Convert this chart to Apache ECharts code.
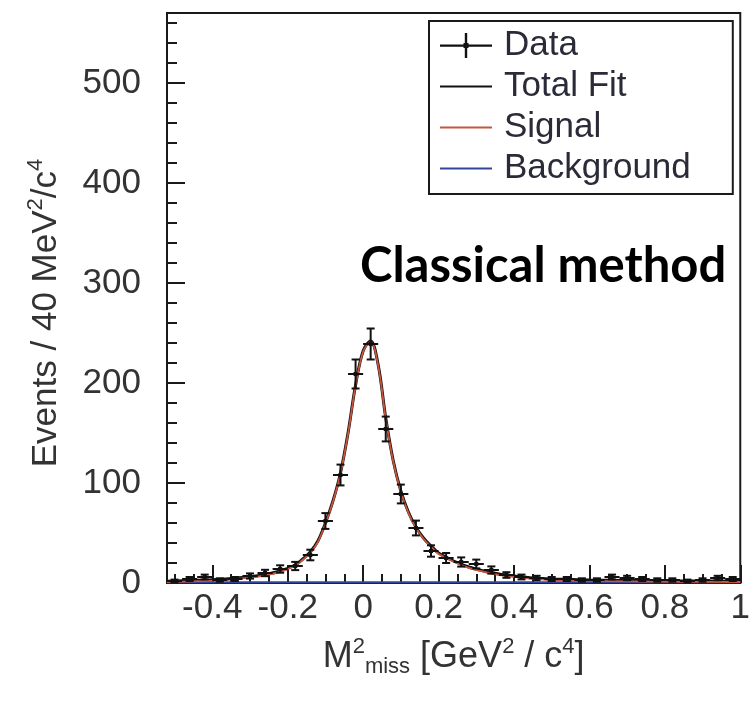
<!DOCTYPE html>
<html>
<head>
<meta charset="utf-8">
<script src="https://cdn.jsdelivr.net/npm/echarts@6/dist/echarts.min.js"></script>
<style>
html,body{margin:0;padding:0;background:#fff;}
#chart{width:753px;height:703px;}
</style>
</head>
<body>
<div id="chart"></div>
<script>
// ---- data ----
const binWidth = 0.04;
const binCenters = [-0.50,-0.46,-0.42,-0.38,-0.34,-0.30,-0.26,-0.22,-0.18,-0.14,-0.10,-0.06,-0.02,0.02,0.06,0.10,0.14,0.18,0.22,0.26,0.30,0.34,0.38,0.42,0.46,0.50,0.54,0.58,0.62,0.66,0.70,0.74,0.78,0.82,0.86,0.90,0.94,0.98];
const counts = [2,4,6,3,4,7,10,14,17,28,62,108,209,239,154,89,55,32,25,21,19,13,8,6,5,4,4,3,3,6,5,4,3,3,2,3,5,4];
const errors = [1.4,2,2.4,1.7,2,2.6,3.2,3.7,4.1,5.3,7.9,10.4,14.5,15.5,12.4,9.4,7.4,5.7,5,4.6,4.4,3.6,2.8,2.4,2.2,2,2,1.7,1.7,2.4,2.2,2,1.7,1.7,1.4,1.7,2.2,2];

const fitX = [-0.52,-0.45,-0.40,-0.35,-0.30,-0.26,-0.22,-0.18,-0.16,-0.14,-0.12,-0.10,-0.08,-0.06,-0.04,-0.02,0.00,0.02,0.04,0.06,0.08,0.10,0.12,0.14,0.16,0.18,0.20,0.24,0.28,0.32,0.36,0.40,0.45,0.50,0.60,0.70,0.85,1.00];
const totalFit = [1.7,2.5,3.2,4.5,6.2,8.5,12,18,24,31,42,60,82,110,150,198,232,242,218,165,122,92,71,56,45,37,30,22,16,12,9,7,5,4,3,2.5,2,1.8];
const signal = [0.9,1.7,2.4,3.7,5.4,7.7,11.2,17.2,23.2,30.2,41.2,59.2,81.2,109.2,149.2,197.2,231.2,241.2,217.2,164.2,121.2,91.2,70.2,55.2,44.2,36.2,29.2,21.2,15.2,11.2,8.2,6.2,4.2,3.2,2.2,1.7,1.2,1.0];
const bgX = [-0.52, 1.0];
const background = [0.8, 0.8];

const xMajorTicks = [-0.4,-0.2,0,0.2,0.4,0.6,0.8,1.0];
const xMinorTicks = [-0.5,-0.45,-0.35,-0.3,-0.25,-0.15,-0.1,-0.05,0.05,0.1,0.15,0.25,0.3,0.35,0.45,0.5,0.55,0.65,0.7,0.75,0.85,0.9,0.95];
const yMajorTicks = [0,100,200,300,400,500];
const yMinorTicks = [20,40,60,80,120,140,160,180,220,240,260,280,320,340,360,380,420,440,460,480,520,540,560];

const seriesNames = ['Data','Total Fit','Signal','Background'];
// --------------------------------------

const zip = (xs, ys) => xs.map((x, i) => [x, ys[i]]);
const dataPts = binCenters.map((x, i) => [x, counts[i], errors[i]]);

const FONT = '"Liberation Sans", Arial, sans-serif';
const AX = '#1a1a1a';
// legend icon: thin horizontal stroke inside a 52x26 box (tiny corner marks keep the box size)
const LINE_ICON = 'path://M0,0 L0.01,0 L0,0.01 Z M0,12 H52 V14 H0 Z M52,26 L51.99,26 L52,25.99 Z';
const DATA_ICON = 'path://M0,0 L0.01,0 L0,0.01 Z M0,12 H52 V14.2 H0 Z M24.8,0.5 H27.2 V25.5 H24.8 Z M23.5,10.5 H28.5 V15.5 H23.5 Z M52,26 L51.99,26 L52,25.99 Z';

const chart = echarts.init(document.getElementById('chart'));
const baseX = { type:'value', min:-0.52, max:1.0, gridIndex:0, position:'bottom', splitLine:{show:false} };
const baseY = { type:'value', min:0, max:570, gridIndex:0, position:'left', splitLine:{show:false} };

chart.setOption({
  animation:false,
  backgroundColor:'#fff',
  title:{
    text:'Classical method', left:355, top:237,
    textStyle:{fontFamily:'Lato, "Open Sans", sans-serif', fontWeight:'bold', fontSize:49, color:'#000'}
  },
  grid:{left:167, right:2, top:13, bottom:120, show:true, borderColor:AX, borderWidth:2, backgroundColor:'transparent'},
  legend:{
    orient:'vertical', left:429, top:21,
    padding:[7, 42, 8, 11],
    itemWidth:52, itemHeight:26, itemGap:6,
    borderColor:AX, borderWidth:2, backgroundColor:'#fff',
    textStyle:{fontFamily:FONT, fontSize:35, color:'#2b2b38', padding:[0,0,0,7]},
    data:[
      {name:seriesNames[0], icon:DATA_ICON},
      {name:seriesNames[1], icon:LINE_ICON},
      {name:seriesNames[2], icon:LINE_ICON},
      {name:seriesNames[3], icon:LINE_ICON}
    ]
  },
  xAxis:[
    Object.assign({}, baseX, {
      axisLine:{show:true, onZero:false, lineStyle:{color:AX, width:2}},
      axisTick:{show:true, inside:true, length:18, customValues:xMajorTicks, lineStyle:{color:AX, width:2}},
      axisLabel:{show:true, customValues:xMajorTicks, margin:8, fontFamily:FONT, fontSize:35, color:'#333',
        showMinLabel:true, showMaxLabel:true, formatter:v => String(Math.round(v*10)/10)},
      name:'M{sup|2}{sub|miss} [GeV{sup|2} / c{sup|4}]',
      nameLocation:'middle', nameGap:53,
      nameTextStyle:{fontFamily:FONT, fontSize:36, color:'#333', lineHeight:42,
        rich:{
          sup:{fontFamily:FONT, fontSize:22, color:'#333', verticalAlign:'top', lineHeight:22},
          sub:{fontFamily:FONT, fontSize:22, color:'#333', verticalAlign:'bottom', lineHeight:22}
        }}
    }),
    Object.assign({}, baseX, {
      axisLine:{show:false, onZero:false},
      axisTick:{show:true, inside:true, length:9, customValues:xMinorTicks, lineStyle:{color:AX, width:2}},
      axisLabel:{show:false}
    })
  ],
  yAxis:[
    Object.assign({}, baseY, {
      axisLine:{show:true, onZero:false, lineStyle:{color:AX, width:2}},
      axisTick:{show:true, inside:true, length:18, customValues:yMajorTicks, lineStyle:{color:AX, width:2}},
      axisLabel:{show:true, customValues:yMajorTicks, margin:26, fontFamily:FONT, fontSize:35, color:'#333'},
      name:'Events / 40 MeV{sup|2}/c{sup|4}',
      nameLocation:'middle', nameGap:100, nameRotate:90,
      nameTextStyle:{fontFamily:FONT, fontSize:35, color:'#333', lineHeight:42, padding:[0,30,0,0],
        rich:{
          sup:{fontFamily:FONT, fontSize:22, color:'#333', verticalAlign:'top', lineHeight:22}
        }}
    }),
    Object.assign({}, baseY, {
      axisLine:{show:false, onZero:false},
      axisTick:{show:true, inside:true, length:10, customValues:yMinorTicks, lineStyle:{color:AX, width:2}},
      axisLabel:{show:false}
    })
  ],
  series:[
    {
      name:seriesNames[3], type:'line', xAxisIndex:0, yAxisIndex:0,
      data:zip(bgX, background), symbol:'none',
      lineStyle:{color:'#34449a', width:2}, itemStyle:{color:'#34449a'}, z:2
    },
    {
      name:seriesNames[1], type:'line', xAxisIndex:0, yAxisIndex:0,
      data:zip(fitX, totalFit), symbol:'none', smooth:0.35,
      lineStyle:{color:'#111', width:3}, itemStyle:{color:'#111'}, z:3
    },
    {
      name:seriesNames[2], type:'line', xAxisIndex:0, yAxisIndex:0,
      data:zip(fitX, signal), symbol:'none', smooth:0.35,
      lineStyle:{color:'#c8553d', width:1.8}, itemStyle:{color:'#c8553d'}, z:4
    },
    {
      name:seriesNames[0], type:'custom', xAxisIndex:0, yAxisIndex:0, z:6,
      itemStyle:{color:'#111'},
      data:dataPts,
      renderItem:function(params, api){
        const x = api.value(0), y = api.value(1), e = api.value(2);
        const c = api.coord([x, y]);
        const l = api.coord([x - binWidth/2, y]);
        const r = api.coord([x + binWidth/2, y]);
        const t = api.coord([x, y + e]);
        const b = api.coord([x, Math.max(0, y - e)]);
        const st = {stroke:'#111', lineWidth:2};
        const cap = 4;
        return {type:'group', children:[
          {type:'line', shape:{x1:l[0], y1:c[1], x2:r[0], y2:c[1]}, style:st},
          {type:'line', shape:{x1:c[0], y1:t[1], x2:c[0], y2:b[1]}, style:st},
          {type:'line', shape:{x1:c[0]-cap, y1:t[1], x2:c[0]+cap, y2:t[1]}, style:st},
          {type:'line', shape:{x1:c[0]-cap, y1:b[1], x2:c[0]+cap, y2:b[1]}, style:st},
          {type:'rect', shape:{x:c[0]-2, y:c[1]-2, width:4, height:4}, style:{fill:'#111'}}
        ]};
      }
    }
  ]
});
</script>
</body>
</html>
